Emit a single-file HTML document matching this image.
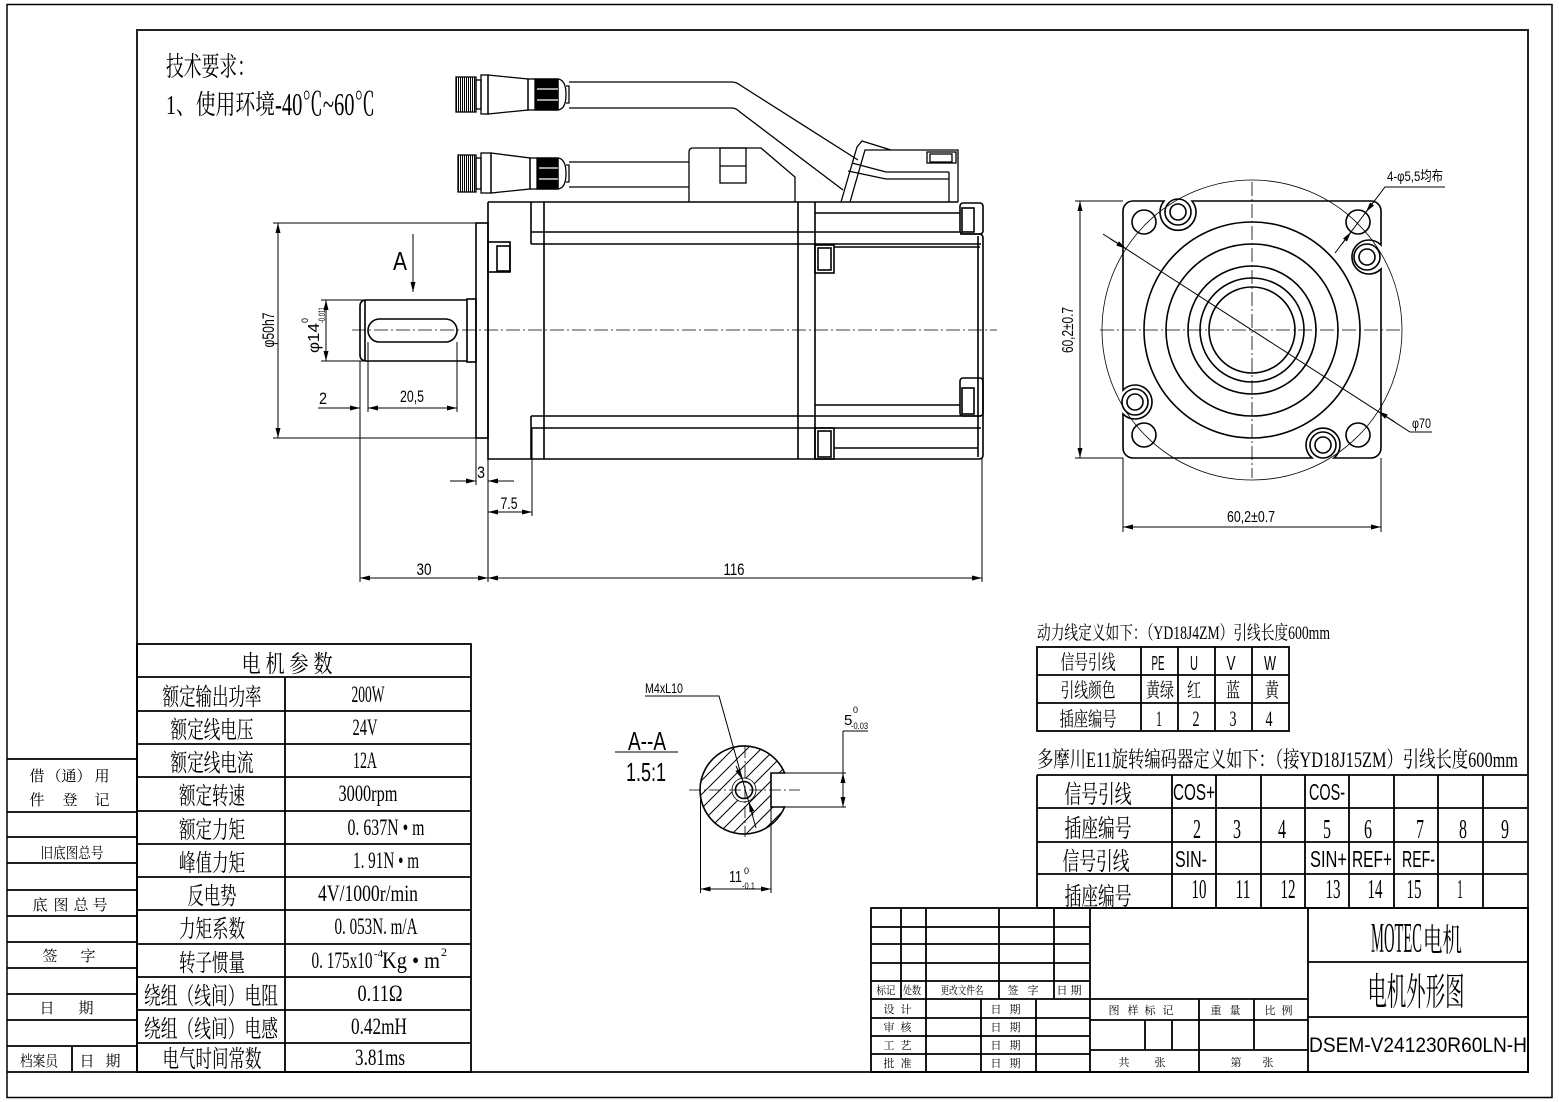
<!DOCTYPE html>
<html><head><meta charset="utf-8"><style>html,body{margin:0;padding:0;background:#fff}svg{display:block}</style></head>
<body>
<svg width="1559" height="1102" viewBox="0 0 1559 1102" xmlns="http://www.w3.org/2000/svg" font-family="'Liberation Serif','Noto Serif CJK SC',serif" fill="#000">
<defs>
<marker id="a" viewBox="0 0 12 6" refX="12" refY="3" markerWidth="12" markerHeight="5" markerUnits="userSpaceOnUse" orient="auto-start-reverse"><path d="M0,0 L12,3 L0,6z" fill="#000"/></marker>
<pattern id="th" width="2" height="4" patternUnits="userSpaceOnUse"><rect width="1" height="4" fill="#000"/></pattern>
<mask id="hm"><rect x="600" y="700" width="300" height="200" fill="#000"/><circle cx="744" cy="790" r="44" fill="#fff"/><rect x="771" y="773" width="40" height="34" fill="#000"/><circle cx="744" cy="790" r="12" fill="#000"/></mask>
</defs>

<!-- frames -->
<rect x="7" y="4.5" width="1545" height="1093" fill="none" stroke="#000" stroke-width="1.5"/>
<rect x="137" y="30" width="1391" height="1042" fill="none" stroke="#222" stroke-width="2"/>
<g stroke="#000" stroke-width="1.8" fill="none">
<path d="M7,1072H137M7,759H137M7,812H137M7,837H137M7,863H137M7,890H137M7,916H137M7,942H137M7,968H137M7,994H137M7,1020H137M7,1046H137M72,1046V1072"/>
</g>
<g font-size="15" text-anchor="middle">
<text x="37" y="781">借</text><text x="69" y="781">（通）</text><text x="102" y="781">用</text>
<text x="37" y="805">件</text><text x="70" y="805">登</text><text x="102" y="805">记</text>
<text x="72" y="858" textLength="63" lengthAdjust="spacingAndGlyphs">旧底图总号</text>
<text x="40" y="910">底</text><text x="61" y="910">图</text><text x="81" y="910">总</text><text x="100" y="910">号</text>
<text x="50" y="961">签</text><text x="88" y="961">字</text>
<text x="47" y="1013">日</text><text x="86" y="1013">期</text>
<text x="39" y="1066" textLength="38" lengthAdjust="spacingAndGlyphs">档案员</text><text x="87" y="1066">日</text><text x="113" y="1066">期</text>
</g>

<!-- tech requirements -->
<text x="166" y="76" font-size="27" textLength="89" lengthAdjust="spacingAndGlyphs">技术要求：</text>
<text x="166" y="114" font-size="27" textLength="109" lengthAdjust="spacingAndGlyphs">1、使用环境</text>
<text x="275" y="115" font-size="32" textLength="100" lengthAdjust="spacingAndGlyphs">-40℃~60℃</text>

<!-- parameter table -->
<g stroke="#000" stroke-width="1.8" fill="none">
<rect x="137" y="644" width="334" height="428"/>
<path d="M137,677H471M137,711H471M137,744H471M137,777H471M137,811H471M137,844H471M137,877H471M137,910H471M137,944H471M137,977H471M137,1010H471M137,1043H471M285,677V1072"/>
</g>
<g font-size="24" text-anchor="middle">
<text x="287" y="672" textLength="91" lengthAdjust="spacingAndGlyphs">电 机 参 数</text>
<text x="212" y="705" textLength="99" lengthAdjust="spacingAndGlyphs">额定输出功率</text>
<text x="212" y="738" textLength="83" lengthAdjust="spacingAndGlyphs">额定线电压</text>
<text x="212" y="771" textLength="83" lengthAdjust="spacingAndGlyphs">额定线电流</text>
<text x="212" y="804" textLength="66" lengthAdjust="spacingAndGlyphs">额定转速</text>
<text x="212" y="838" textLength="66" lengthAdjust="spacingAndGlyphs">额定力矩</text>
<text x="212" y="871" textLength="66" lengthAdjust="spacingAndGlyphs">峰值力矩</text>
<text x="212" y="904" textLength="49" lengthAdjust="spacingAndGlyphs">反电势</text>
<text x="212" y="937" textLength="66" lengthAdjust="spacingAndGlyphs">力矩系数</text>
<text x="212" y="971" textLength="66" lengthAdjust="spacingAndGlyphs">转子惯量</text>
<text x="211" y="1004" textLength="134" lengthAdjust="spacingAndGlyphs">绕组（线间）电阻</text>
<text x="211" y="1037" textLength="134" lengthAdjust="spacingAndGlyphs">绕组（线间）电感</text>
<text x="212" y="1067" textLength="99" lengthAdjust="spacingAndGlyphs">电气时间常数</text>
</g>
<g font-size="23" text-anchor="middle">
<text x="368" y="702" textLength="33" lengthAdjust="spacingAndGlyphs">200W</text>
<text x="365" y="735" textLength="25" lengthAdjust="spacingAndGlyphs">24V</text>
<text x="365" y="768" textLength="24" lengthAdjust="spacingAndGlyphs">12A</text>
<text x="368" y="801" textLength="59" lengthAdjust="spacingAndGlyphs">3000rpm</text>
<text x="386" y="835" textLength="77" lengthAdjust="spacingAndGlyphs">0. 637N • m</text>
<text x="386" y="868" textLength="66" lengthAdjust="spacingAndGlyphs">1. 91N • m</text>
<text x="368" y="901" textLength="100" lengthAdjust="spacingAndGlyphs">4V/1000r/min</text>
<text x="376" y="934" textLength="83" lengthAdjust="spacingAndGlyphs">0. 053N. m/A</text>
<text x="342" y="968" textLength="61" lengthAdjust="spacingAndGlyphs">0. 175x10</text>
<text x="411" y="968" textLength="58" lengthAdjust="spacingAndGlyphs">Kg • m</text>
<text x="380" y="1001" textLength="45" lengthAdjust="spacingAndGlyphs">0.11Ω</text>
<text x="379" y="1034" textLength="56" lengthAdjust="spacingAndGlyphs">0.42mH</text>
<text x="380" y="1065" textLength="50" lengthAdjust="spacingAndGlyphs">3.81ms</text>
</g>
<text x="374" y="957" font-size="11">-4</text>
<text x="441" y="956" font-size="12">2</text>

<!-- ===== SIDE VIEW ===== -->
<g stroke="#000" stroke-width="1.6" fill="none">
<path d="M488,202H958M488,202V459H979Q983,459 983,455V238Q983,234 979,234H960"/>
<rect x="960" y="203" width="23" height="31" rx="3"/>
<rect x="962" y="208" width="12" height="24"/>
<path d="M978,236V457M531,202V244M531,416V459M544,202V459M798,202V459M815,202V459"/>
<path d="M815,213H960M531,232H960M531,244H981M834,247H980M815,405H960M531,416H981M531,428H981M834,448H978"/>
<rect x="960" y="378" width="23" height="38" rx="3"/>
<rect x="962" y="388" width="12" height="26"/>
<rect x="815" y="245" width="19" height="28"/><rect x="818" y="248" width="13" height="22"/>
<rect x="815" y="428" width="19" height="31"/><rect x="818" y="431" width="13" height="26"/>
<rect x="488" y="242" width="22" height="30"/><rect x="497" y="246" width="13" height="25"/>
<rect x="476" y="223" width="12" height="215"/>
<rect x="467" y="299" width="9" height="63"/>
<path d="M365,300H467M365,361H467M365,300V361M365,300Q360,301 360,306V355Q360,360 365,361"/>
<rect x="368" y="319" width="89" height="23" rx="11.5"/>
</g>
<!-- connectors -->
<g stroke="#000" stroke-width="1.3" fill="none">
<rect x="456" y="77" width="20" height="35" fill="url(#th)"/>
<rect x="476" y="80" width="5" height="29"/>
<rect x="481" y="75" width="7" height="39"/>
<path d="M488,75L528,79V110L488,114Z"/>
<rect x="528" y="79" width="30" height="31"/>
<rect x="535" y="79" width="23" height="31" fill="#000"/>
<path d="M558,79Q566,80 566,94.5Q566,109 558,110"/>
<path d="M566,86H569V103H566"/>
<path d="M569,82H732Q736,82 740,85L858,160M569,108H732Q736,108 740,112L843,190"/>

<rect x="458" y="155" width="18" height="37" fill="url(#th)"/>
<rect x="476" y="158" width="5" height="31"/>
<rect x="481" y="153" width="10" height="40"/>
<path d="M491,153L530,158V189L491,193Z"/>
<rect x="530" y="158" width="28" height="31"/>
<rect x="537" y="158" width="21" height="31" fill="#000"/>
<path d="M558,158Q566,159 566,173.5Q566,188 558,189"/>
<path d="M566,165H569V182H566"/>
<path d="M569,162H689M569,187H689"/>
<path d="M689,202V152Q689,148 693,148H761L795,177V202"/>
<rect x="720" y="148" width="26" height="35"/>
<path d="M720,166H746"/>

<path d="M841,202L857,147L862,141L891,150M850,202L865,150H958V202"/>
<path d="M852,163L886,172H949M848,171L886,179H949M949,172V202"/>
<rect x="927" y="152" width="29" height="11"/>
<rect x="930" y="154" width="22" height="8"/>
</g>
<g stroke="#fff" stroke-width="1.2"><path d="M537,89H558M537,100H558M539,168H558M539,179H558"/></g>

<path d="M352,330H997" stroke="#000" stroke-width="0.8" stroke-dasharray="14 3 2 3"/>

<!-- side dims -->
<g stroke="#000" stroke-width="1" fill="none">
<path d="M273,223H476M273,438H476M321,300H365M321,361H365"/>
<path d="M278,223V438" marker-start="url(#a)" marker-end="url(#a)"/>
<path d="M326,300V361" marker-start="url(#a)" marker-end="url(#a)"/>
<path d="M413,234V292" marker-end="url(#a)"/>
<path d="M360,361V582M368,342V412M457,342V412M476,438V485M488,459V582M532,428V516M982,459V582"/>
<path d="M318,408H360" marker-end="url(#a)"/>
<path d="M368,408H457" marker-start="url(#a)" marker-end="url(#a)"/>
<path d="M450,481H476" marker-end="url(#a)"/>
<path d="M514,481H488" marker-end="url(#a)"/>
<path d="M488,512H532" marker-start="url(#a)" marker-end="url(#a)"/>
<path d="M360,578H488" marker-start="url(#a)" marker-end="url(#a)"/>
<path d="M488,578H982" marker-start="url(#a)" marker-end="url(#a)"/>
</g>
<g font-family="'Liberation Sans','Noto Sans CJK SC',sans-serif" font-size="17" text-anchor="middle">
<text x="400" y="270" font-size="26" textLength="14" lengthAdjust="spacingAndGlyphs">A</text>
<text x="323" y="404" textLength="8" lengthAdjust="spacingAndGlyphs">2</text>
<text x="412" y="402" textLength="24" lengthAdjust="spacingAndGlyphs">20,5</text>
<text x="481" y="478" textLength="8" lengthAdjust="spacingAndGlyphs">3</text>
<text x="509" y="509" textLength="17" lengthAdjust="spacingAndGlyphs">7.5</text>
<text x="424" y="575" textLength="15" lengthAdjust="spacingAndGlyphs">30</text>
<text x="734" y="575" textLength="21" lengthAdjust="spacingAndGlyphs">116</text>
<text transform="translate(274,330) rotate(-90)" textLength="35" lengthAdjust="spacingAndGlyphs">φ50h7</text>
<text transform="translate(319,353) rotate(-90)" text-anchor="start" font-size="16" textLength="30" lengthAdjust="spacingAndGlyphs">φ14</text>
<text transform="translate(308,323) rotate(-90)" text-anchor="start" font-size="9">0</text>
<text transform="translate(325,323) rotate(-90)" text-anchor="start" font-size="9" textLength="16" lengthAdjust="spacingAndGlyphs">-0.011</text>
</g>

<!-- ===== FRONT VIEW ===== -->
<g stroke="#000" fill="none">
<circle cx="1252" cy="330" r="150" stroke-width="0.8"/>
<path stroke-width="1.6" d="M1133,201H1164A18,18 0 1 0 1192,201H1371A10,10 0 0 1 1381,211V245A17,17 0 1 0 1381,269V448A10,10 0 0 1 1371,458H1334A17,17 0 1 0 1312,458H1133A10,10 0 0 1 1123,448V414A17,17 0 1 0 1123,390V211A10,10 0 0 1 1133,201Z"/>
<g stroke-width="1.6">
<circle cx="1252" cy="330" r="108"/><circle cx="1252" cy="330" r="86"/><circle cx="1252" cy="330" r="64"/><circle cx="1252" cy="330" r="52"/><circle cx="1252" cy="330" r="43"/>
<circle cx="1144" cy="222" r="12"/><circle cx="1358" cy="222" r="12"/><circle cx="1144" cy="435" r="12"/><circle cx="1358" cy="435" r="12"/>
<circle cx="1178" cy="212" r="13"/><circle cx="1178" cy="212" r="8"/>
<circle cx="1367" cy="257" r="13"/><circle cx="1367" cy="257" r="8"/>
<circle cx="1135" cy="402" r="13"/><circle cx="1135" cy="402" r="8"/>
<circle cx="1323" cy="445" r="13"/><circle cx="1323" cy="445" r="8"/>
</g>
<path d="M1100,330H1403M1252,182V478" stroke-width="0.8" stroke-dasharray="14 3 2 3"/>
<g stroke-width="1">
<path d="M1103,234L1410,432H1432"/>
<path d="M1110,238.6L1126,248.7" marker-end="url(#a)"/>
<path d="M1395,422L1378,411.3" marker-end="url(#a)"/>
<path d="M1445,187H1385L1335,253"/>
<path d="M1375,200L1366,212" marker-end="url(#a)"/>
<path d="M1342,244L1351,232" marker-end="url(#a)"/>
<path d="M1075,201H1123M1075,458H1123M1123,458V532M1381,458V532"/>
<path d="M1080,201V458" marker-start="url(#a)" marker-end="url(#a)"/>
<path d="M1123,527H1381" marker-start="url(#a)" marker-end="url(#a)"/>
</g>
</g>
<g font-family="'Liberation Sans','Noto Sans CJK SC',sans-serif" font-size="16">
<text x="1387" y="181" font-size="14" textLength="56" lengthAdjust="spacingAndGlyphs">4-φ5,5均布</text>
<text x="1412" y="428" font-size="14" textLength="19" lengthAdjust="spacingAndGlyphs">φ70</text>
<text x="1227" y="522" textLength="48" lengthAdjust="spacingAndGlyphs">60,2±0.7</text>
<text transform="translate(1073,353) rotate(-90)" textLength="46" lengthAdjust="spacingAndGlyphs">60,2±0.7</text>
</g>

<!-- ===== SECTION A-A ===== -->
<path mask="url(#hm)" stroke="#000" stroke-width="1" fill="none" d="M600 840L710 730M614 840L724 730M628 840L738 730M642 840L752 730M656 840L766 730M670 840L780 730M684 840L794 730M698 840L808 730M712 840L822 730M726 840L836 730M740 840L850 730M754 840L864 730M768 840L878 730"/>
<g stroke="#000" fill="none">
<path stroke-width="1.6" d="M784.6,773A44,44 0 1 0 784.6,807H771V773Z"/>
<circle cx="744" cy="790" r="12" stroke-width="0.8"/>
<circle cx="744" cy="790" r="8.5" stroke-width="1.6"/>
<path d="M689,790H800M745,746V837" stroke-width="0.8" stroke-dasharray="12 3 2 3"/>
<g stroke-width="1">
<path d="M784,773H846M784,807H846M843,731V773M843,731H868M700.5,792V893M771,807V893M615,752H678M645,696H719L756,828"/>
<path d="M843,773V807" marker-start="url(#a)" marker-end="url(#a)"/>
<path d="M700.5,889H771" marker-start="url(#a)" marker-end="url(#a)"/>
<path d="M736,766L742,779" marker-end="url(#a)"/>
<path d="M753,815L749,802" marker-end="url(#a)"/>
</g>
</g>
<g font-family="'Liberation Sans','Noto Sans CJK SC',sans-serif">
<text x="645" y="693" font-size="14" textLength="38" lengthAdjust="spacingAndGlyphs">M4xL10</text>
<text x="628" y="750" font-size="26" textLength="38" lengthAdjust="spacingAndGlyphs">A--A</text>
<text x="626" y="781" font-size="26" textLength="40" lengthAdjust="spacingAndGlyphs">1.5:1</text>
<text x="844" y="725" font-size="15">5</text>
<text x="853" y="713" font-size="9">0</text>
<text x="851" y="729" font-size="9" textLength="17" lengthAdjust="spacingAndGlyphs">-0.03</text>
<text x="729" y="882" font-size="16" textLength="13" lengthAdjust="spacingAndGlyphs">11</text>
<text x="744" y="874" font-size="9">0</text>
<text x="742" y="889" font-size="9" textLength="13" lengthAdjust="spacingAndGlyphs">-0.1</text>
</g>

<!-- ===== POWER TABLE ===== -->
<text x="1037" y="639" font-size="19" textLength="293" lengthAdjust="spacingAndGlyphs">动力线定义如下：（YD18J4ZM）引线长度600mm</text>
<g stroke="#000" stroke-width="1.8" fill="none">
<rect x="1037" y="647" width="252" height="84"/>
<path d="M1037,675H1289M1037,703H1289M1141,647V731M1178,647V731M1215,647V731M1252,647V731"/>
</g>
<g font-size="20" text-anchor="middle">
<text x="1088" y="669" textLength="55" lengthAdjust="spacingAndGlyphs">信号引线</text>
<text x="1088" y="697" textLength="55" lengthAdjust="spacingAndGlyphs">引线颜色</text>
<text x="1088" y="726" textLength="57" lengthAdjust="spacingAndGlyphs">插座编号</text>
<text x="1160" y="697" textLength="28" lengthAdjust="spacingAndGlyphs">黄绿</text>
<text x="1194" y="697" textLength="14" lengthAdjust="spacingAndGlyphs">红</text>
<text x="1233" y="697" textLength="14" lengthAdjust="spacingAndGlyphs">蓝</text>
<text x="1272" y="697" textLength="14" lengthAdjust="spacingAndGlyphs">黄</text>
<text x="1159" y="726" font-size="22" textLength="6" lengthAdjust="spacingAndGlyphs">1</text>
<text x="1196" y="726" font-size="22" textLength="7" lengthAdjust="spacingAndGlyphs">2</text>
<text x="1233" y="726" font-size="22" textLength="7" lengthAdjust="spacingAndGlyphs">3</text>
<text x="1269" y="726" font-size="22" textLength="7" lengthAdjust="spacingAndGlyphs">4</text>
</g>
<g font-family="'Liberation Sans',sans-serif" font-size="20" text-anchor="middle">
<text x="1158" y="670" textLength="13" lengthAdjust="spacingAndGlyphs">PE</text>
<text x="1194" y="670" textLength="8" lengthAdjust="spacingAndGlyphs">U</text>
<text x="1231" y="670" textLength="9" lengthAdjust="spacingAndGlyphs">V</text>
<text x="1270" y="670" textLength="12" lengthAdjust="spacingAndGlyphs">W</text>
</g>

<!-- ===== ENCODER TABLE ===== -->
<text x="1037" y="767" font-size="22" textLength="481" lengthAdjust="spacingAndGlyphs">多摩川E11旋转编码器定义如下：（接YD18J15ZM）引线长度600mm</text>
<g stroke="#000" stroke-width="1.8" fill="none">
<path d="M1037,775H1527M1037,808H1527M1037,842H1527M1037,874H1527M1037,908H1527"/>
<path d="M1037,775V908M1172,775V908M1216,775V908M1261,775V908M1305,775V908M1349,775V908M1394,775V908M1438,775V908M1483,775V908"/>
</g>
<g font-size="25" text-anchor="middle">
<text x="1098" y="803" textLength="67" lengthAdjust="spacingAndGlyphs">信号引线</text>
<text x="1098" y="837" textLength="67" lengthAdjust="spacingAndGlyphs">插座编号</text>
<text x="1096" y="870" textLength="67" lengthAdjust="spacingAndGlyphs">信号引线</text>
<text x="1098" y="905" textLength="67" lengthAdjust="spacingAndGlyphs">插座编号</text>
</g>
<g font-size="27" text-anchor="middle">
<text x="1197" y="838" textLength="8" lengthAdjust="spacingAndGlyphs">2</text>
<text x="1237" y="838" textLength="8" lengthAdjust="spacingAndGlyphs">3</text>
<text x="1282" y="838" textLength="8" lengthAdjust="spacingAndGlyphs">4</text>
<text x="1327" y="838" textLength="8" lengthAdjust="spacingAndGlyphs">5</text>
<text x="1368" y="838" textLength="8" lengthAdjust="spacingAndGlyphs">6</text>
<text x="1420" y="838" textLength="8" lengthAdjust="spacingAndGlyphs">7</text>
<text x="1463" y="838" textLength="8" lengthAdjust="spacingAndGlyphs">8</text>
<text x="1505" y="838" textLength="8" lengthAdjust="spacingAndGlyphs">9</text>
<text x="1199" y="898" textLength="15" lengthAdjust="spacingAndGlyphs">10</text>
<text x="1243" y="898" textLength="15" lengthAdjust="spacingAndGlyphs">11</text>
<text x="1288" y="898" textLength="15" lengthAdjust="spacingAndGlyphs">12</text>
<text x="1333" y="898" textLength="15" lengthAdjust="spacingAndGlyphs">13</text>
<text x="1375" y="898" textLength="15" lengthAdjust="spacingAndGlyphs">14</text>
<text x="1414" y="898" textLength="15" lengthAdjust="spacingAndGlyphs">15</text>
<text x="1460" y="898" textLength="6" lengthAdjust="spacingAndGlyphs">1</text>
</g>
<g font-family="'Liberation Sans',sans-serif" font-size="23">
<text x="1173" y="800" textLength="42" lengthAdjust="spacingAndGlyphs">COS+</text>
<text x="1309" y="800" textLength="36" lengthAdjust="spacingAndGlyphs">COS-</text>
<text x="1175" y="867" textLength="32" lengthAdjust="spacingAndGlyphs">SIN-</text>
<text x="1310" y="867" textLength="37" lengthAdjust="spacingAndGlyphs">SIN+</text>
<text x="1352" y="867" textLength="40" lengthAdjust="spacingAndGlyphs">REF+</text>
<text x="1402" y="867" textLength="33" lengthAdjust="spacingAndGlyphs">REF-</text>
</g>

<!-- ===== TITLE BLOCK ===== -->
<g stroke="#000" stroke-width="1.8" fill="none">
<rect x="871" y="908" width="657" height="164"/>
<path d="M871,927H1090M871,944H1090M871,963H1090M871,981H1090M871,999H1090M871,1018H1090M871,1036H1090M871,1054H1090"/>
<path d="M901,908V999M926,908V1072M999,908V999M1054,908V999M1090,908V1072M981,999V1072M1036,999V1072"/>
<path d="M1090,999H1308M1090,1020H1308M1090,1050H1308M1199,999V1072M1254,999V1050M1145,1020V1050M1172,1020V1050M1308,908V1072M1308,962H1528M1308,1017H1528"/>
</g>
<g font-size="11" text-anchor="middle">
<text x="886" y="994" textLength="19" lengthAdjust="spacingAndGlyphs">标记</text>
<text x="912" y="994" textLength="18" lengthAdjust="spacingAndGlyphs">处数</text>
<text x="962" y="994" textLength="43" lengthAdjust="spacingAndGlyphs">更改文件名</text>
<text x="1013" y="994">签</text><text x="1033" y="994">字</text>
<text x="1062" y="994">日</text><text x="1076" y="994">期</text>
<text x="889" y="1013">设</text><text x="906" y="1013">计</text>
<text x="889" y="1031">审</text><text x="906" y="1031">核</text>
<text x="889" y="1049">工</text><text x="906" y="1049">艺</text>
<text x="889" y="1067">批</text><text x="906" y="1067">准</text>
<text x="996" y="1013">日</text><text x="1015" y="1013">期</text>
<text x="996" y="1031">日</text><text x="1015" y="1031">期</text>
<text x="996" y="1049">日</text><text x="1015" y="1049">期</text>
<text x="996" y="1067">日</text><text x="1015" y="1067">期</text>
<text x="1114" y="1014">图</text><text x="1133" y="1014">样</text><text x="1150" y="1014">标</text><text x="1168" y="1014">记</text>
<text x="1216" y="1014">重</text><text x="1235" y="1014">量</text>
<text x="1270" y="1014">比</text><text x="1287" y="1014">例</text>
<text x="1124" y="1066">共</text><text x="1160" y="1066">张</text>
<text x="1236" y="1066">第</text><text x="1268" y="1066">张</text>
</g>
<text x="1371" y="952" font-size="42" textLength="51" lengthAdjust="spacingAndGlyphs">MOTEC</text>
<text x="1423" y="951" font-size="32" textLength="39" lengthAdjust="spacingAndGlyphs">电机</text>
<text x="1416" y="1005" font-size="38" text-anchor="middle" textLength="97" lengthAdjust="spacingAndGlyphs">电机外形图</text>
<text x="1309" y="1052" font-family="'Liberation Sans',sans-serif" font-size="21" textLength="218" lengthAdjust="spacingAndGlyphs">DSEM-V241230R60LN-H</text>
</svg>
</body></html>
